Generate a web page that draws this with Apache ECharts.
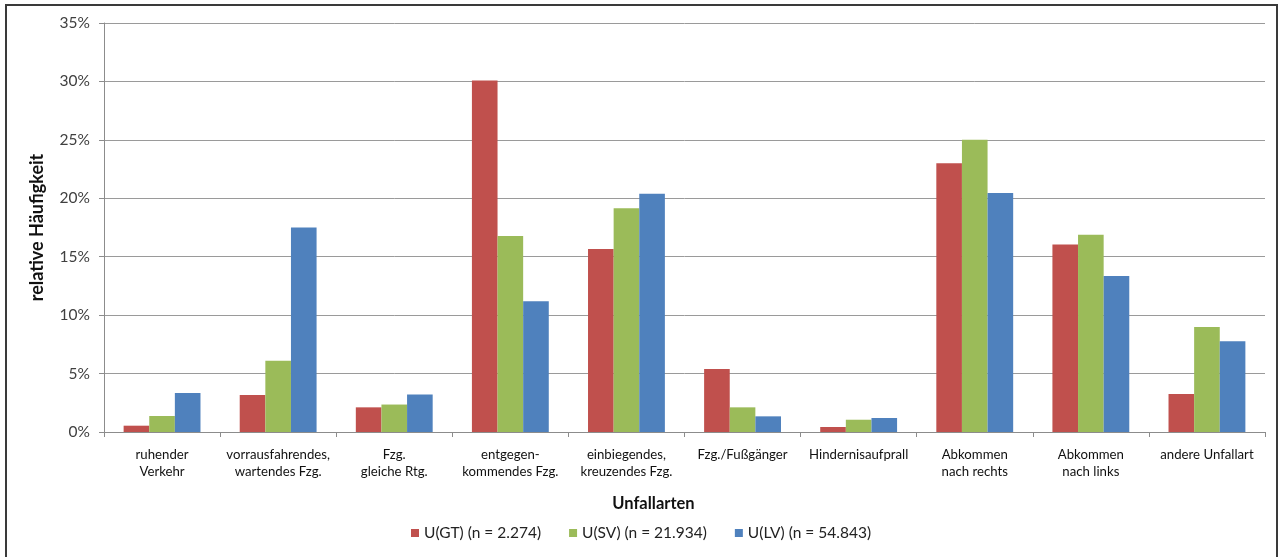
<!DOCTYPE html>
<html>
<head>
<meta charset="utf-8">
<script src="https://cdn.jsdelivr.net/npm/echarts@6/dist/echarts.min.js"></script>
<style>
  html, body { margin: 0; padding: 0; background: #ffffff; }
  #chart { width: 1282px; height: 557px; }
</style>
</head>
<body>
<div id="chart"></div>
<script>
// Unfallarten (Kategorien der x-Achse)
const categories = [
  'ruhender\nVerkehr',
  'vorrausfahrendes,\nwartendes Fzg.',
  'Fzg.\ngleiche Rtg.',
  'entgegen-\nkommendes Fzg.',
  'einbiegendes,\nkreuzendes Fzg.',
  'Fzg./Fußgänger',
  'Hindernisaufprall',
  'Abkommen\nnach rechts',
  'Abkommen\nnach links',
  'andere Unfallart'
];

// Relative Häufigkeit in Prozent je Gruppe
const seriesNames = ['U(GT) (n = 2.274)', 'U(SV) (n = 21.934)', 'U(LV) (n = 54.843)'];
const valuesGT = [0.54, 3.16, 2.11, 30.08, 15.67, 5.39, 0.43, 23.0, 16.04, 3.25];
const valuesSV = [1.37, 6.1, 2.35, 16.78, 19.15, 2.11, 1.05, 25.0, 16.87, 8.99];
const valuesLV = [3.34, 17.5, 3.2, 11.19, 20.38, 1.34, 1.2, 20.46, 13.36, 7.76];

const seriesColors = ['#C0504D', '#9BBB59', '#4F81BD'];

// Achse: 0 % bis 35 % in 5er-Schritten
const yMin = 0;
const yMax = 35;
const yStep = 5;

const fontFamily = 'Lato, "Open Sans", sans-serif';

const chart = echarts.init(document.getElementById('chart'), null, { renderer: 'canvas' });

const makeBar = (name, data, color) => ({
  name: name,
  type: 'bar',
  data: data,
  barGap: '0%',
  barCategoryGap: '33.8%',
  itemStyle: { color: color },
  emphasis: { disabled: true }
});

chart.setOption({
  animation: false,
  backgroundColor: '#ffffff',
  textStyle: { fontFamily: fontFamily },
  grid: { left: 104, right: 17, top: 23, bottom: 125, containLabel: false },
  legend: {
    data: seriesNames,
    top: 520,
    left: 'center',
    icon: 'rect',
    itemWidth: 8,
    itemHeight: 8,
    itemGap: 28,
    selectedMode: false,
    textStyle: { fontFamily: fontFamily, fontSize: 15.5, color: '#222222' }
  },
  xAxis: {
    type: 'category',
    data: categories,
    name: 'Unfallarten',
    nameLocation: 'middle',
    nameGap: 63,
    nameTextStyle: {
      fontFamily: fontFamily,
      fontSize: 16.5,
      fontWeight: 'bold',
      color: '#111111',
      padding: [0, 62, 0, 0]
    },
    axisLine: { show: true, lineStyle: { color: '#8c8c8c', width: 1 } },
    axisTick: { show: true, alignWithLabel: false, length: 5, lineStyle: { color: '#8c8c8c' } },
    axisLabel: {
      interval: 0,
      margin: 14,
      fontSize: 13.2,
      lineHeight: 17,
      color: '#111111',
      fontFamily: fontFamily
    },
    splitLine: { show: false }
  },
  yAxis: {
    type: 'value',
    min: yMin,
    max: yMax,
    interval: yStep,
    name: 'relative Häufigkeit',
    nameLocation: 'middle',
    nameGap: 58,
    nameRotate: 90,
    nameTextStyle: {
      fontFamily: fontFamily,
      fontSize: 18,
      fontWeight: 'bold',
      color: '#111111'
    },
    axisLine: { show: true, lineStyle: { color: '#8c8c8c', width: 1 } },
    axisTick: { show: true, inside: false, length: 5, lineStyle: { color: '#8c8c8c' } },
    axisLabel: {
      margin: 14,
      fontSize: 15.5,
      color: '#404040',
      fontFamily: fontFamily,
      formatter: '{value}%'
    },
    splitLine: { show: true, lineStyle: { color: '#9a9a9a', width: 1 } }
  },
  graphic: [
    {
      type: 'rect',
      silent: true,
      shape: { x: 6, y: 5, width: 1271, height: 560 },
      style: { fill: 'none', stroke: '#3a3a3a', lineWidth: 2 }
    }
  ],
  series: [
    makeBar(seriesNames[0], valuesGT, seriesColors[0]),
    makeBar(seriesNames[1], valuesSV, seriesColors[1]),
    makeBar(seriesNames[2], valuesLV, seriesColors[2])
  ]
});
</script>
</body>
</html>
